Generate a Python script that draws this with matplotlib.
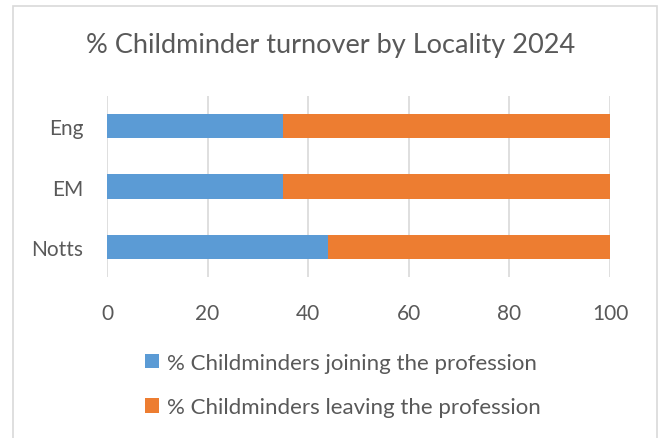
import matplotlib

matplotlib.use("Agg")

import matplotlib.pyplot as plt
from matplotlib.patches import Rectangle

localities = ["Notts", "EM", "Eng"]
joining = [44, 35, 35]
leaving = [56, 65, 65]
series_labels = [
    "% Childminders joining the profession",
    "% Childminders leaving the profession",
]
x_ticks = [0, 20, 40, 60, 80, 100]

BLUE = "#5B9BD5"
ORANGE = "#ED7D31"
TEXT = "#595959"
GRID = "#D9D9D9"

plt.rcParams["font.family"] = ["Lato", "DejaVu Sans"]

W, H = 661, 439
fig = plt.figure(figsize=(W / 100, H / 100), dpi=100)
ax = fig.add_axes([107 / W, 1 - 278 / H, (610 - 107) / W, (278 - 97) / H])

pos = range(len(localities))
ax.barh(pos, joining, height=0.4, color=BLUE, label=series_labels[0], zorder=3)
ax.barh(pos, leaving, left=joining, height=0.4, color=ORANGE,
        label=series_labels[1], zorder=3)

ax.set_xlim(0, 100)
ax.set_ylim(-0.5, len(localities) - 0.5)
ax.set_xticks(x_ticks)
ax.set_yticks(list(pos))
ax.set_yticklabels(localities)
ax.tick_params(length=0, labelsize=15, labelcolor=TEXT)
ax.tick_params(axis="x", pad=19)
ax.tick_params(axis="y", pad=17)
ax.grid(axis="x", color=GRID, lw=1.2, zorder=0)
for s in ax.spines.values():
    s.set_visible(False)

fig.text(0.5, 1 - 46 / H, "% Childminder turnover by Locality 2024",
         ha="center", va="center", fontsize=19.5, color=TEXT)

handles, labels = ax.get_legend_handles_labels()
fig.legend(handles, labels, loc="center left",
           bbox_to_anchor=(145 / W, 1 - 386 / H), ncol=1, frameon=False,
           borderpad=0, borderaxespad=0,
           fontsize=16, labelcolor=TEXT, handlelength=0.63, handleheight=0.63,
           handletextpad=0.34, labelspacing=1.09)

# chart border: the bottom edge sits just below the image
fig.patches.append(Rectangle((13 / W, -5 / H), (657 - 13) / W, (439 - 7 + 5) / H,
                             transform=fig.transFigure, fill=False,
                             edgecolor=GRID, lw=1.2))

fig.savefig("out.png", dpi=100)
